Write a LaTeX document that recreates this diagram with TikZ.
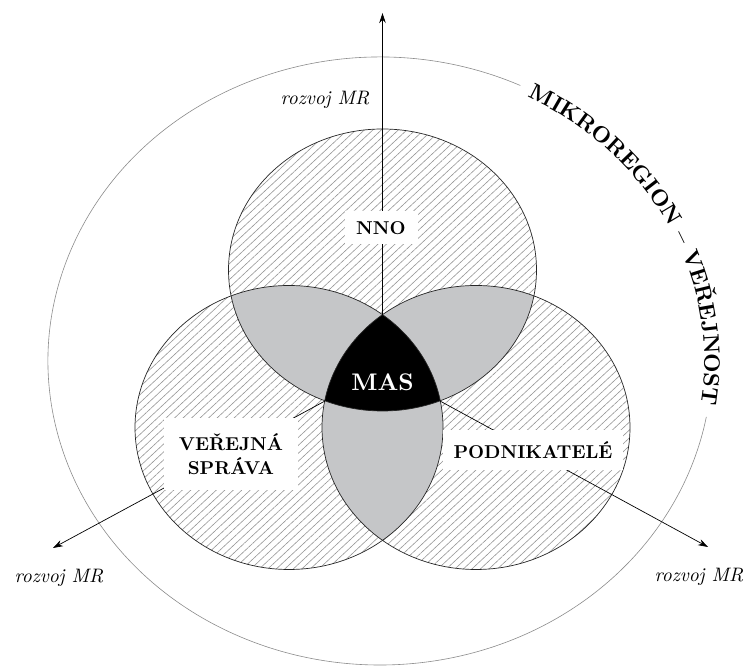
\documentclass[tikz,border=0pt]{standalone}
\usepackage{fontspec}
\setmainfont{lmroman10-regular.otf}[BoldFont=lmroman10-bold.otf, ItalicFont=lmroman10-italic.otf, BoldItalicFont=lmroman10-bolditalic.otf]
\usetikzlibrary{patterns.meta,arrows.meta,decorations.text}
\definecolor{lensgray}{RGB}{197,198,200}
\definecolor{hatchgray}{RGB}{150,150,150}
\begin{document}
\begin{tikzpicture}[x=1pt,y=1pt,
  circ/.style={draw=black!85, line width=0.7pt},
  outerring/.style={draw=black!45, line width=0.6pt},
  hatched/.style={pattern={Lines[angle=43,distance=5.8pt,line width=0.6pt]}, pattern color=hatchgray},
  lbl/.style={fill=white, font=\fontsize{18.6}{24}\selectfont\bfseries, align=center, inner sep=0pt},
  devlbl/.style={font=\fontsize{19.5}{21}\selectfont\itshape},
  arr/.style={draw=black, line width=0.7pt, -{Stealth[length=10pt,width=6.5pt]}}]

\useasboundingbox (0,0) rectangle (746,668);
\fill[white] (0,0) rectangle (746,668);

% centres of the three sets
\coordinate (cT) at (382.5,398);
\coordinate (cL) at (289,240.5);
\coordinate (cR) at (476,240.5);

% outer region with a gap for the curved text
\draw[outerring] (520.3,582.5) arc[start angle=65, end angle=349.4, x radius=332pt, y radius=304pt];
\path[decorate, decoration={text along path, text align=center, raise=-7.6pt,
   text={|\fontsize{22.5}{23}\selectfont\bfseries|MIKROREGION – VEŘEJNOST}}]
   (520.3,582.5) arc[start angle=65, end angle=-10.6, x radius=332pt, y radius=304pt];

% hatched single sets
\fill[white] (cT) ellipse[x radius=154pt, y radius=141pt];
\fill[white] (cL) ellipse[x radius=154pt, y radius=142pt];
\fill[white] (cR) ellipse[x radius=154pt, y radius=142pt];
\path[hatched] (cT) ellipse[x radius=154pt, y radius=141pt];
\path[hatched] (cL) ellipse[x radius=154pt, y radius=142pt];
\path[hatched] (cR) ellipse[x radius=154pt, y radius=142pt];

% pairwise overlaps
\begin{scope}
  \clip (cT) ellipse[x radius=154pt, y radius=141pt];
  \fill[lensgray] (cL) ellipse[x radius=154pt, y radius=142pt];
  \fill[lensgray] (cR) ellipse[x radius=154pt, y radius=142pt];
\end{scope}
\begin{scope}
  \clip (cL) ellipse[x radius=154pt, y radius=142pt];
  \fill[lensgray] (cR) ellipse[x radius=154pt, y radius=142pt];
\end{scope}
% triple overlap
\begin{scope}
  \clip (cT) ellipse[x radius=154pt, y radius=141pt];
  \clip (cL) ellipse[x radius=154pt, y radius=142pt];
  \fill[black] (cR) ellipse[x radius=154pt, y radius=142pt];
\end{scope}

% outlines
\draw[circ] (cT) ellipse[x radius=154pt, y radius=141pt];
\draw[circ] (cL) ellipse[x radius=154pt, y radius=142pt];
\draw[circ] (cR) ellipse[x radius=154pt, y radius=142pt];

% arrows
\coordinate (mtop) at (382.5,353.3);
\coordinate (mbl) at (325,267);
\coordinate (mbr) at (440,267);
\coordinate (tipT) at (382.5,655);
\coordinate (tipL) at (53,120);
\coordinate (tipR) at (708,121);
\draw[arr] (mtop) -- (tipT);
\draw[arr] (mbl) -- (tipL);
\draw[arr] (mbr) -- (tipR);

% labels
\node[lbl, minimum width=73pt, minimum height=33pt] (nno) at (381,440) {NNO};
\node[lbl, minimum width=134pt, minimum height=72pt] (vs) at (231,214) {VEŘEJNÁ\\SPRÁVA};
\node[lbl, minimum width=180pt, minimum height=40pt] (pod) at (533,218) {PODNIKATELÉ};
\node[font=\fontsize{24}{24}\selectfont\bfseries, text=white] (mas) at (382.5,286) {MAS};

\node[devlbl] (rT) at (325,568) {rozvoj MR};
\node[devlbl] (rL) at (59,90) {rozvoj MR};
\node[devlbl] (rR) at (699,91) {rozvoj MR};
\end{tikzpicture}
\end{document}
